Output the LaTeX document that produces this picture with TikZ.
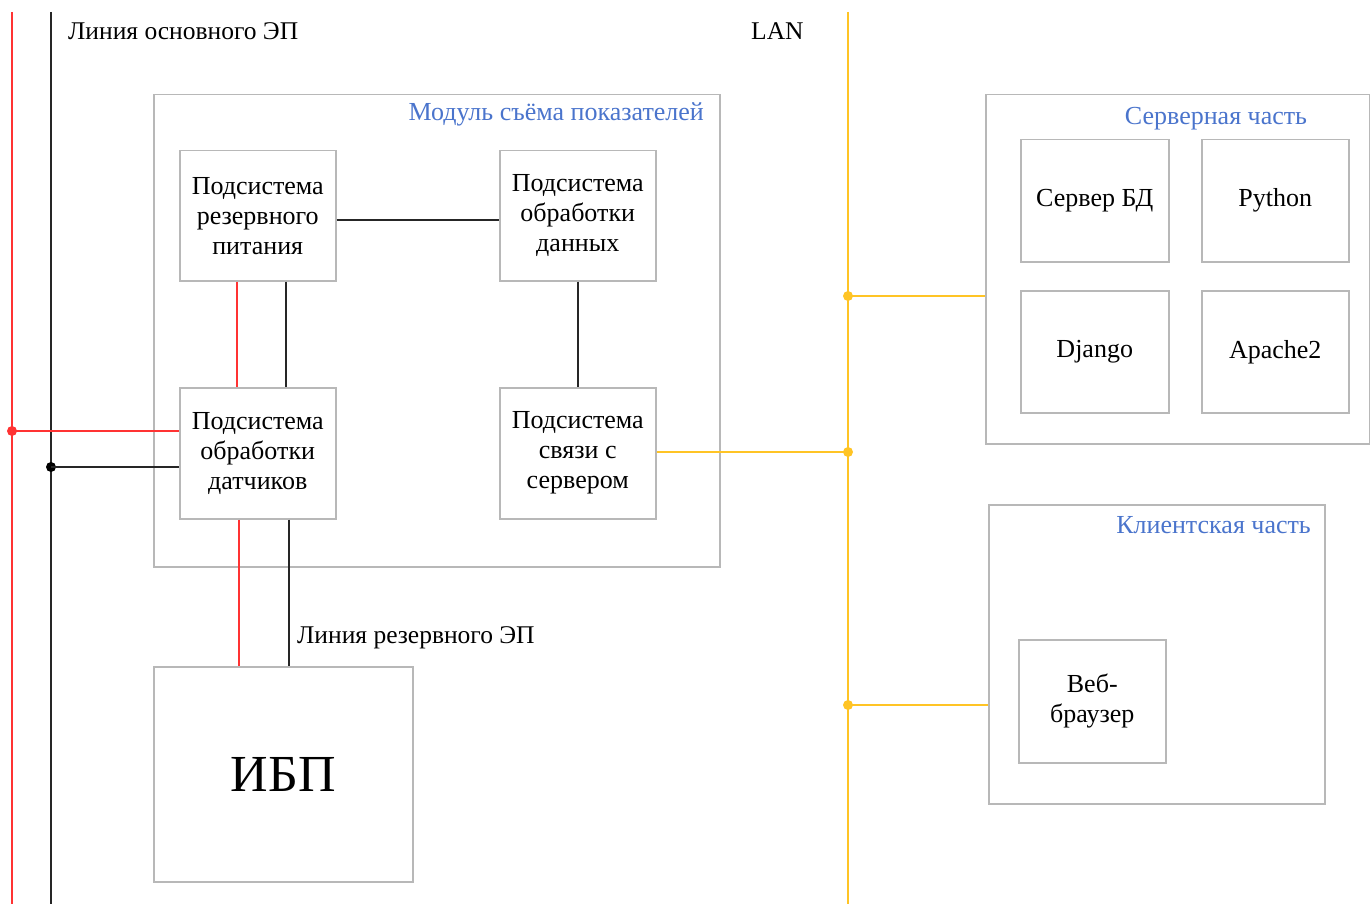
\documentclass[tikz,border=0pt]{standalone}
\usepackage{fontspec}
\setmainfont{Liberation Serif}
\usetikzlibrary{calc}
\definecolor{lred}{HTML}{FF3333}
\definecolor{lyel}{HTML}{FFC425}
\definecolor{bgray}{HTML}{B8B8B8}
\definecolor{tblue}{HTML}{4A74CC}
\tikzset{
  box/.style={draw=bgray, line width=1.5pt, anchor=north west, inner sep=0pt, align=center, font=\fontsize{26}{30}\selectfont},
  title/.style={text=tblue, font=\fontsize{26}{30}\selectfont, inner sep=0pt},
  lbl/.style={font=\fontsize{25.5}{30}\selectfont, inner sep=0pt},
  redw/.style={draw=lred, line width=2.2pt},
  blkw/.style={draw=black!85, line width=2.2pt},
  yelw/.style={draw=lyel, line width=2.4pt},
  dotr/.style={circle, fill=lred, inner sep=0pt, minimum size=10pt},
  dotb/.style={circle, fill=black, inner sep=0pt, minimum size=10pt},
  doty/.style={circle, fill=lyel, inner sep=0pt, minimum size=10pt}
}
\begin{document}
\begin{tikzpicture}[x=1pt,y=-1pt]
\useasboundingbox (0,0) rectangle (1370,904);
% main power lines
\coordinate (rtop) at (12,12); \coordinate (rbot) at (12,904);
\coordinate (btop) at (51,12); \coordinate (bbot) at (51,904);
\coordinate (ytop) at (848,12); \coordinate (ybot) at (848,904);
\draw[redw] (rtop) -- (rbot);
\draw[blkw] (btop) -- (bbot);
\draw[yelw] (ytop) -- (ybot);
\node[lbl, anchor=west] (lmain) at (68,31) {Линия основного ЭП};
\node[lbl, anchor=west] (lan) at (751,31) {LAN};

% module
\node[box, minimum width=566pt, minimum height=472pt] (mod) at (153,94) {};
\node[title, anchor=east] (modt) at (704,114) {Модуль съёма показателей};
\node[box, minimum width=156pt, minimum height=130pt] (rp) at (179,150) {Подсистема\\резервного\\питания};
\node[box, minimum width=156pt, minimum height=130pt] (pd) at (499,150) {Подсистема\\обработки\\данных};
\node[box, minimum width=156pt, minimum height=131pt] (sd) at (179,387) {Подсистема\\обработки\\датчиков};
\node[box, minimum width=156pt, minimum height=131pt] (ss) at (499,387) {Подсистема\\связи с\\сервером};

% UPS
\node[box, minimum width=259pt, minimum height=215pt, font=\fontsize{52}{60}\selectfont] (ups) at (153,666) {ИБП};
\node[lbl, anchor=west] (lres) at (297,638) {Линия резервного ЭП};

% server part
\node[box, minimum width=384pt, minimum height=349pt] (srv) at (985,94) {};
\node[title] (srvt) at (1216,119) {Серверная часть};
\node[box, minimum width=148pt, minimum height=122pt] (db) at (1020,139) {Сервер БД};
\node[box, minimum width=147pt, minimum height=122pt] (py) at (1201,139) {Python};
\node[box, minimum width=148pt, minimum height=122pt] (dj) at (1020,290) {Django};
\node[box, minimum width=147pt, minimum height=122pt] (ap) at (1201,290) {Apache2};

% client part
\node[box, minimum width=336pt, minimum height=299pt] (cli) at (988,504) {};
\node[title, anchor=east] (clit) at (1311,525) {Клиентская часть};
\node[box, minimum width=147pt, minimum height=123pt] (web) at (1018,639) {Веб-\\браузер};

% internal connectors
\draw[blkw] ($(rp.north east)+(0,70)$) -- ($(pd.north west)+(0,70)$);
\draw[blkw] (pd.south) -- (ss.north);
\draw[redw] ($(rp.south west)+(58,0)$) -- ($(sd.north west)+(58,0)$);
\draw[blkw] ($(rp.south west)+(107,0)$) -- ($(sd.north west)+(107,0)$);
\draw[redw] ($(sd.south west)+(60,0)$) -- ($(ups.north west)+(86,0)$);
\draw[blkw] ($(sd.south west)+(110,0)$) -- ($(ups.north west)+(136,0)$);

% power feeds
\node[dotr] (dr) at (12,431) {};
\node[dotb] (db2) at (51,467) {};
\draw[redw] (dr.center) -- (dr.center -| sd.west);
\draw[blkw] (db2.center) -- (db2.center -| sd.west);

% LAN feeds
\node[doty] (y1) at (848,296) {};
\node[doty] (y2) at (848,452) {};
\node[doty] (y3) at (848,705) {};
\draw[yelw] (y1.center) -- (y1.center -| srv.west);
\draw[yelw] (ss.east |- y2.center) -- (y2.center);
\draw[yelw] (y3.center) -- (y3.center -| cli.west);
\end{tikzpicture}
\end{document}
